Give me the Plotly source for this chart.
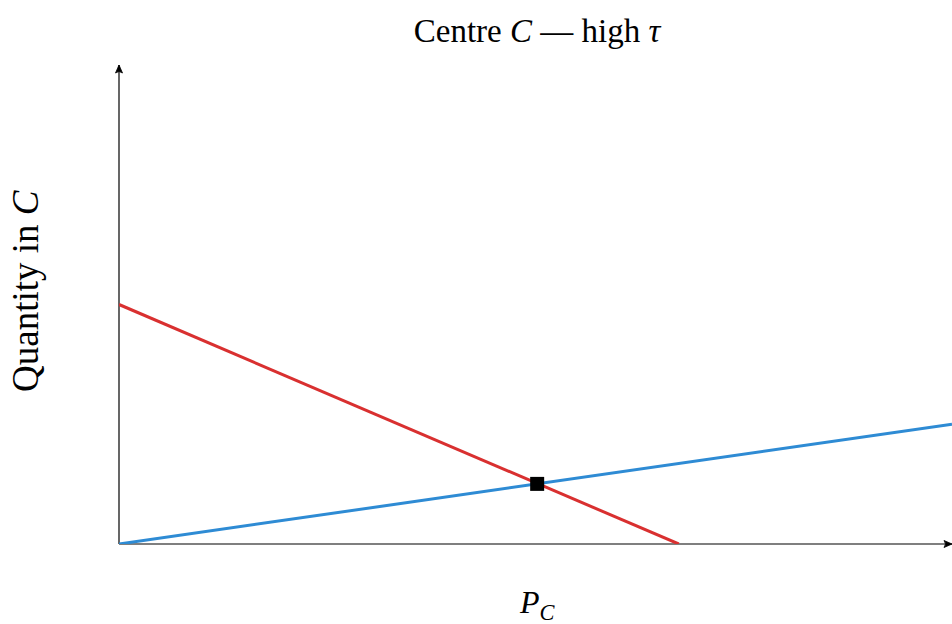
import plotly.graph_objects as go

# Data (x and y in arbitrary units)
demand_x = [0.0, 0.672]
demand_y = [5.0, 0.0]
supply_x = [0.0, 1.0]
supply_y = [0.0, 2.5]
eq_x = [0.502]
eq_y = [1.255]

X_MAX = 1.0
Y_MAX = 10.0

FONT = "Liberation Serif, Times New Roman, serif"
W, H = 952, 624

# plot area on screen
PL, PR, PT, PB = 119, 952, 65, 544
PW, PH = PR - PL, PB - PT

fig = go.Figure()
fig.add_trace(go.Scatter(x=demand_x, y=demand_y, mode="lines",
                         line=dict(color="#d93030", width=3), showlegend=False,
                         hoverinfo="skip", cliponaxis=False))
fig.add_trace(go.Scatter(x=supply_x, y=supply_y, mode="lines",
                         line=dict(color="#2e8bd4", width=3), showlegend=False,
                         hoverinfo="skip", cliponaxis=False))
fig.add_trace(go.Scatter(x=eq_x, y=eq_y, mode="markers",
                         marker=dict(symbol="square", size=14, color="black"),
                         showlegend=False, hoverinfo="skip"))

# axes lines (paper-referenced so they are not clipped)
fig.add_shape(type="line", xref="paper", yref="paper", x0=0, y0=0, x1=1, y1=0,
              line=dict(color="black", width=1.2), layer="below")
fig.add_shape(type="line", xref="paper", yref="paper", x0=0, y0=0, x1=0, y1=1,
              line=dict(color="black", width=1.2), layer="below")
# arrowheads (pixel-sized)
fig.add_shape(type="path", xref="paper", yref="paper", xsizemode="pixel",
              ysizemode="pixel", xanchor=1, yanchor=0,
              path="M 0,0 L -8,3.5 Q -5,0 -8,-3.5 Z",
              fillcolor="black", line=dict(color="black", width=0.8))
fig.add_shape(type="path", xref="paper", yref="paper", xsizemode="pixel",
              ysizemode="pixel", xanchor=0, yanchor=1,
              path="M 0,0 L -3.5,-8 Q 0,-5 3.5,-8 Z",
              fillcolor="black", line=dict(color="black", width=0.8))

fig.add_annotation(text="Quantity in <i>C</i>", xref="paper", yref="paper",
                   x=(25 - PL) / PW, y=(PB - 291) / PH,
                   xanchor="center", yanchor="middle", textangle=-90,
                   showarrow=False, font=dict(family=FONT, size=37))
fig.add_annotation(text="<i>P<sub>C</sub></i>", xref="paper", yref="paper",
                   x=(537 - PL) / PW, y=(PB - 604) / PH,
                   xanchor="center", yanchor="middle",
                   showarrow=False, font=dict(family=FONT, size=32))

fig.update_layout(
    width=W, height=H,
    margin=dict(l=PL, r=W - PR, t=PT, b=H - PB, pad=0),
    paper_bgcolor="white", plot_bgcolor="white",
    font=dict(family=FONT, size=26, color="black"),
    title=dict(text="Centre <i>C</i> — high <i>τ</i>", x=537 / W,
               xanchor="center", y=1 - 30 / H, yanchor="middle",
               font=dict(family=FONT, size=33)),
    xaxis=dict(range=[0, X_MAX], showgrid=False, zeroline=False, showline=False,
               showticklabels=False, ticks=""),
    yaxis=dict(range=[0, Y_MAX], showgrid=False, zeroline=False, showline=False,
               showticklabels=False, ticks=""),
)

fig.write_html("out.html", config={"displayModeBar": False},
               post_script="document.body.style.margin='0';"
                           "document.body.style.overflow='hidden';")
